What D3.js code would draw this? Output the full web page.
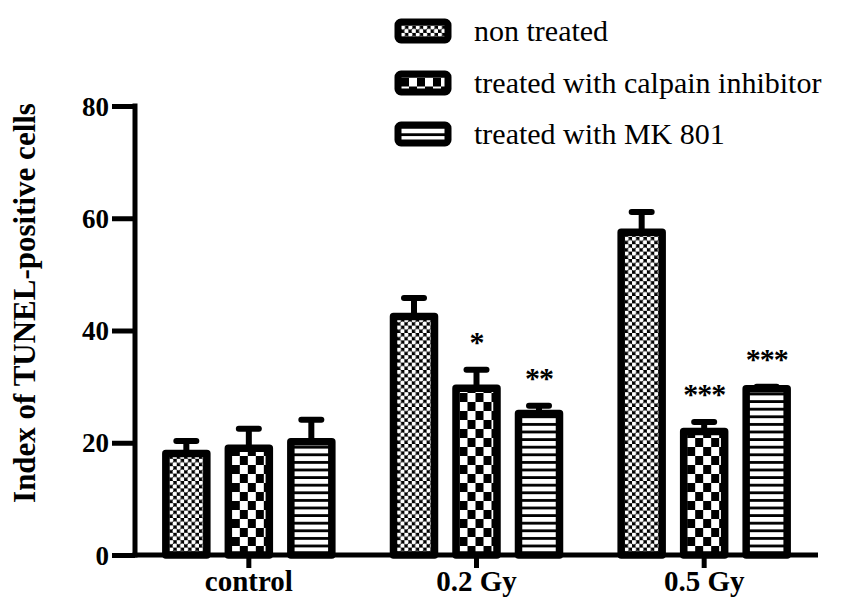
<!DOCTYPE html>
<html>
<head>
<meta charset="utf-8">
<script src="https://cdn.jsdelivr.net/npm/d3@7"></script>
<style>
  html, body { margin: 0; padding: 0; background: #fff; }
  svg { display: block; }
</style>
</head>
<body>
<svg id="chart" width="841" height="607"></svg>
<script>
// ---- data ----
const groups = ["control", "0.2 Gy", "0.5 Gy"];
const seriesNames = ["non treated", "treated with calpain inhibitor", "treated with MK 801"];
const nonTreated = [18.1, 42.5, 57.5];
const calpainInhibitor = [19.0, 29.7, 22.0];
const mk801 = [20.2, 25.2, 29.6];
const nonTreatedErr = [2.2, 3.3, 3.6];
const calpainInhibitorErr = [3.5, 3.3, 1.7];
const mk801Err = [3.9, 1.4, 0.4];
const nonTreatedSig = ["", "", ""];
const calpainInhibitorSig = ["", "*", "***"];
const mk801Sig = ["", "**", "***"];
const yTicks = [0, 20, 40, 60, 80];
const yTitle = "Index of TUNEL-positive cells";

const seriesValues = [nonTreated, calpainInhibitor, mk801];
const seriesErrors = [nonTreatedErr, calpainInhibitorErr, mk801Err];
const seriesSig = [nonTreatedSig, calpainInhibitorSig, mk801Sig];
const seriesPattern = ["dots", "checker", "stripes"];

const rows = [];
groups.forEach((g, gi) => {
  seriesNames.forEach((s, si) => {
    rows.push({ group: g, series: s, si, value: seriesValues[si][gi], err: seriesErrors[si][gi], sig: seriesSig[si][gi] });
  });
});

// ---- layout ----
const svg = d3.select("#chart");
const serif = "'Liberation Serif', 'Times New Roman', serif";

const x0 = d3.scaleBand().domain(groups).range([135, 818]);
const innerW = 187.5;
const x1 = d3.scaleBand().domain(seriesNames).range([-innerW / 2, innerW / 2])
  .paddingInner(0.344).paddingOuter(0.172);
const y = d3.scaleLinear().domain([0, 80]).range([555, 106]);

const defs = svg.append("defs");

function makePattern(id, type, ox, oy) {
  if (type === "dots") {
    const s = 7.4;
    const p = defs.append("pattern").attr("id", id).attr("patternUnits", "userSpaceOnUse")
      .attr("x", ox).attr("y", oy).attr("width", s).attr("height", s);
    p.append("rect").attr("width", s).attr("height", s).attr("fill", "#000");
    [[s / 4, s / 4], [3 * s / 4, 3 * s / 4]].forEach(([cx, cy]) =>
      p.append("circle").attr("cx", cx).attr("cy", cy).attr("r", 2.3).attr("fill", "#fff"));
  } else if (type === "checker") {
    const w = 16, h = 18;
    const p = defs.append("pattern").attr("id", id).attr("patternUnits", "userSpaceOnUse")
      .attr("x", ox).attr("y", oy).attr("width", w).attr("height", h);
    p.append("rect").attr("width", w).attr("height", h).attr("fill", "#fff");
    p.append("rect").attr("x", 0).attr("y", 0).attr("width", w / 2).attr("height", h / 2).attr("fill", "#000");
    p.append("rect").attr("x", w / 2).attr("y", h / 2).attr("width", w / 2).attr("height", h / 2).attr("fill", "#000");
  } else {
    const p = defs.append("pattern").attr("id", id).attr("patternUnits", "userSpaceOnUse")
      .attr("x", ox).attr("y", oy).attr("width", 10).attr("height", 7.6);
    p.append("rect").attr("width", 10).attr("height", 7.6).attr("fill", "#fff");
    p.append("rect").attr("x", 0).attr("y", 4.8).attr("width", 10).attr("height", 2.8).attr("fill", "#000");
  }
}

// ---- bars ----
const barG = svg.append("g");
const barW = x1.bandwidth();
rows.forEach((d, i) => {
  const bx = x0(d.group) + x0.bandwidth() / 2 + x1(d.series);
  const by = y(d.value);
  const pid = "pat" + i;
  makePattern(pid, seriesPattern[d.si], bx + 3.5, y(0));
  // error bar (upper only)
  const cx = bx + barW / 2;
  const top = y(d.value + d.err);
  barG.append("line").attr("x1", cx).attr("x2", cx).attr("y1", by).attr("y2", top)
    .attr("stroke", "#000").attr("stroke-width", 6);
  barG.append("line").attr("x1", cx - 10).attr("x2", cx + 10).attr("y1", top).attr("y2", top)
    .attr("stroke", "#000").attr("stroke-width", 6).attr("stroke-linecap", "round");
  barG.append("rect").attr("x", bx).attr("y", by).attr("width", barW).attr("height", y(0) - by)
    .attr("fill", `url(#${pid})`).attr("stroke", "#000").attr("stroke-width", 7.5)
    .attr("stroke-linejoin", "round");
  if (d.sig) {
    barG.append("text").attr("x", cx).attr("y", top - 18)
      .attr("text-anchor", "middle").attr("font-family", serif).attr("font-weight", "bold")
      .attr("font-size", 30).attr("letter-spacing", -1).text(d.sig);
  }
});

// ---- axes ----
const axG = svg.append("g");
axG.append("line").attr("x1", 135).attr("x2", 135).attr("y1", y(80) - 2.5).attr("y2", y(0) + 2.5)
  .attr("stroke", "#000").attr("stroke-width", 5);
axG.append("line").attr("x1", 132.5).attr("x2", 818).attr("y1", y(0)).attr("y2", y(0))
  .attr("stroke", "#000").attr("stroke-width", 5);

const yAxis = d3.axisLeft(y).tickValues(yTicks).tickSize(23).tickPadding(3).tickFormat(d3.format("d"));
const yg = svg.append("g").attr("transform", "translate(135,0)").call(yAxis);
yg.select(".domain").remove();
yg.selectAll(".tick line").attr("stroke", "#000").attr("stroke-width", 5);
yg.selectAll(".tick text").attr("font-family", serif).attr("font-weight", "bold")
  .attr("font-size", 27).attr("fill", "#000").attr("dy", "0.34em");

const xAxis = d3.axisBottom(x0).tickSize(13).tickPadding(10);
const xg = svg.append("g").attr("transform", `translate(0,${y(0)})`).call(xAxis);
xg.select(".domain").remove();
xg.selectAll(".tick line").attr("stroke", "#000").attr("stroke-width", 5);
xg.selectAll(".tick text").attr("font-family", serif).attr("font-weight", "bold")
  .attr("font-size", 29).attr("fill", "#000").attr("dy", "0.45em");

svg.append("text").attr("transform", "translate(35,303) rotate(-90)")
  .attr("text-anchor", "middle").attr("font-family", serif).attr("font-weight", "bold")
  .attr("font-size", 31).text(yTitle);

// ---- legend ----
const legendRowY = [31, 83, 134];
seriesNames.forEach((s, si) => {
  const cy = legendRowY[si];
  const pid = "legpat" + si;
  makePattern(pid, seriesPattern[si], 401, cy - 5.5);
  svg.append("rect").attr("x", 398).attr("y", cy - 9).attr("width", 50).attr("height", 18)
    .attr("rx", 3).attr("fill", `url(#${pid})`).attr("stroke", "#000").attr("stroke-width", 7)
    .attr("stroke-linejoin", "round");
  svg.append("text").attr("x", 474).attr("y", cy + 10).attr("font-family", serif)
    .attr("font-size", 30).attr("fill", "#000").text(s);
});
</script>
</body>
</html>
